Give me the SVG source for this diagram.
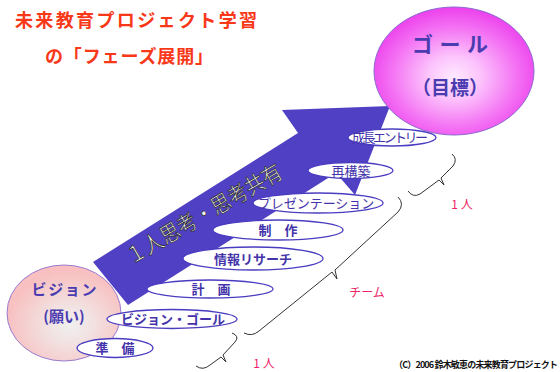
<svg xmlns="http://www.w3.org/2000/svg" width="560" height="372" viewBox="0 0 560 372">
<defs>
<radialGradient id="gGoal" cx="0.5" cy="0.55" r="0.55">
<stop offset="0" stop-color="#ffeaff"/>
<stop offset="0.3" stop-color="#fcc4fc"/>
<stop offset="0.7" stop-color="#f474f4"/>
<stop offset="1" stop-color="#ec40ec"/>
</radialGradient>
<radialGradient id="gVision" cx="0.55" cy="0.62" r="0.55">
<stop offset="0" stop-color="#f0f0f0"/>
<stop offset="0.35" stop-color="#f2e2e2"/>
<stop offset="1" stop-color="#f8c0c0"/>
</radialGradient>
<style>
.t{font-family:'Noto Sans CJK JP','Noto Sans',sans-serif;}
.lab{fill:#fff;stroke:#4a3cc0;stroke-width:1.3;}
.lt{font-family:'Noto Sans CJK JP','Noto Sans',sans-serif;fill:#4433aa;text-anchor:middle;font-weight:bold;font-size:13px;}
.ln{font-weight:normal;}
.br{fill:none;stroke:#333;stroke-width:1;}
.pk{font-family:'Noto Sans CJK JP','Noto Sans',sans-serif;fill:#ee2266;font-size:12px;text-anchor:middle;}
</style>
</defs>
<rect width="560" height="372" fill="#fff"/>
<g id="title">
<text class="t" x="15" y="27" font-size="18" font-weight="bold" fill="#f83818" textLength="242" lengthAdjust="spacing">未来教育プロジェクト学習</text>
<text class="t" x="45" y="63" font-size="18" font-weight="bold" fill="#f83818" textLength="168" lengthAdjust="spacing">の「フェーズ展開」</text>
</g>
<g id="arrow">
<polygon points="93,262 298,133 282,110 390,106 355,195 336,173 128,305" fill="#5040c4"/>
<text class="t" transform="translate(203,212) rotate(-30)" font-size="22" text-anchor="middle" dominant-baseline="central" fill="#f4f4f4" stroke="#222" stroke-width="0.7" textLength="176" lengthAdjust="spacingAndGlyphs">１人思考・思考共有</text>
</g>
<g id="goal">
<ellipse cx="454" cy="71" rx="80" ry="64" fill="url(#gGoal)" stroke="#8a6ad0" stroke-width="1"/>
<text class="t" x="450" y="52" font-size="21" font-weight="bold" fill="#4a3cb0" text-anchor="middle" textLength="76" lengthAdjust="spacing">ゴール</text>
<text class="t" x="450" y="95" font-size="19" font-weight="bold" fill="#4a3cb0" text-anchor="middle">（目標）</text>
</g>
<g id="vision">
<ellipse cx="64" cy="313" rx="57" ry="48" fill="url(#gVision)" stroke="#9a7ad0" stroke-width="1"/>
<text class="t" x="64" y="295" font-size="15" font-weight="bold" fill="#4a3cb0" text-anchor="middle" textLength="65" lengthAdjust="spacing">ビジョン</text>
<text class="t" x="64" y="322" font-size="15" font-weight="bold" fill="#4a3cb0" text-anchor="middle">(願い)</text>
</g>
<g id="n-junbi">
<ellipse class="lab" cx="115" cy="348" rx="38" ry="9.5"/>
<text class="lt" x="115" y="353">準　備</text>
</g>
<g id="n-vision-goal">
<ellipse class="lab" cx="172" cy="319" rx="65" ry="9.5"/>
<text class="lt" x="173" y="324">ビジョン・ゴール</text>
</g>
<g id="n-keikaku">
<ellipse class="lab" cx="210" cy="289" rx="63" ry="9"/>
<text class="lt" x="211" y="294">計　画</text>
</g>
<g id="n-research">
<ellipse class="lab" cx="253" cy="258.5" rx="70" ry="11.5"/>
<text class="lt" x="253" y="263.5">情報リサーチ</text>
</g>
<g id="n-seisaku">
<ellipse class="lab" cx="278" cy="230" rx="65" ry="10"/>
<text class="lt" x="278" y="235">制　作</text>
</g>
<g id="n-presen">
<ellipse class="lab" cx="318" cy="203" rx="65" ry="10"/>
<text class="lt ln" x="316" y="208" font-size="12.5">プレゼンテーション</text>
</g>
<g id="n-saikouchiku">
<ellipse class="lab" cx="350.5" cy="170.5" rx="42.5" ry="8"/>
<text class="lt ln" x="351" y="175.5" font-size="12.5">再構築</text>
</g>
<g id="n-entry">
<ellipse class="lab" cx="392" cy="137.5" rx="44" ry="8.5"/>
<text class="lt ln" x="390" y="141.5" font-size="10.5" textLength="76" lengthAdjust="spacing">成長エントリー</text>
</g>
<g id="connectors">
<path class="br" d="M196,366 Q203,371 210,365 L221,357 L226,362 L223,355 L235,342 Q240,336 232,333"/>
<path class="br" d="M244,333 Q252,337 259,331 L332,272 L337,279 L335,270 L398,212 Q405,204 398,197"/>
<path class="br" d="M408,191 Q413,198 420,194 L439,180 L444,185 L441,178 L453,166 Q458,159 452,154"/>
</g>
<g id="labels">
<text class="pk" x="264" y="368">1 人</text>
<text class="pk" x="367" y="297">チーム</text>
<text class="pk" x="462" y="209">1 人</text>
<text class="t" x="394" y="368" font-size="9" font-weight="bold" fill="#111" textLength="164" lengthAdjust="spacing">（C）2006 鈴木敏恵の未来教育プロジェクト</text>
</g>
</svg>
